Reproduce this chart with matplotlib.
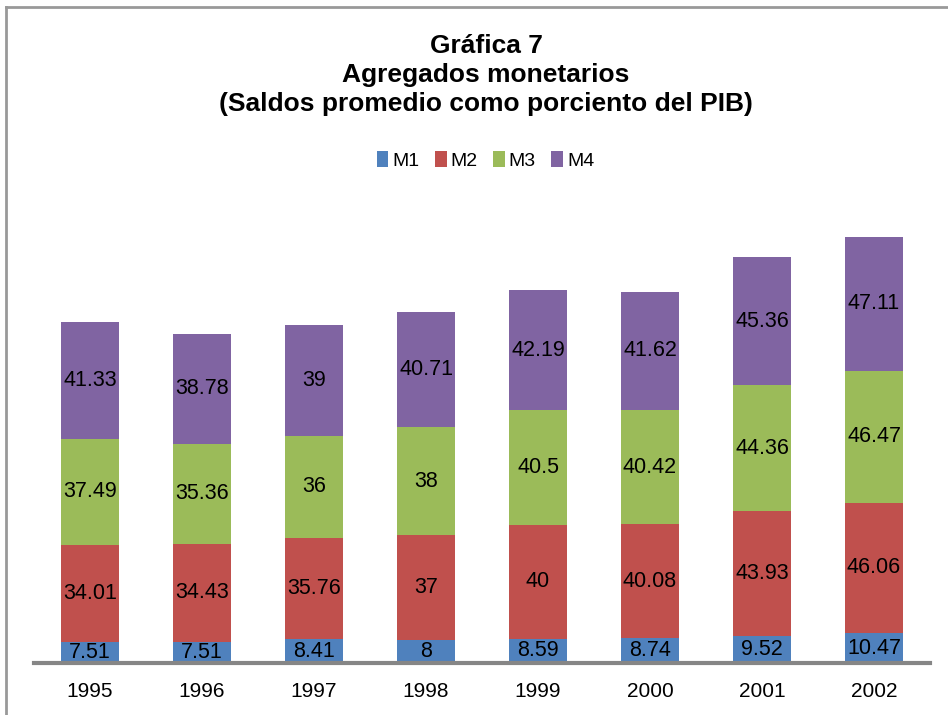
import matplotlib.pyplot as plt
import numpy as np
from matplotlib.lines import Line2D

plt.rcParams['font.family'] = ['Liberation Sans', 'DejaVu Sans']

anios = ['1995', '1996', '1997', '1998', '1999', '2000', '2001', '2002']
m1 = [7.51, 7.51, 8.41, 8, 8.59, 8.74, 9.52, 10.47]
m2 = [34.01, 34.43, 35.76, 37, 40, 40.08, 43.93, 46.06]
m3 = [37.49, 35.36, 36, 38, 40.5, 40.42, 44.36, 46.47]
m4 = [41.33, 38.78, 39, 40.71, 42.19, 41.62, 45.36, 47.11]

series = [('M1', m1, '#4F81BD'), ('M2', m2, '#C0504D'),
          ('M3', m3, '#9BBB59'), ('M4', m4, '#8064A2')]

fig = plt.figure(figsize=(9.48, 7.15), dpi=100)
ax = fig.add_axes([34/948, 52/715, 896/948, 454/715])

x = np.arange(len(anios))
base = np.zeros(len(anios))
for nombre, vals, color in series:
    vals = np.array(vals)
    barras = ax.bar(x, vals, width=0.52, bottom=base, color=color, label=nombre)
    etiquetas = [('%.2f' % v).rstrip('0').rstrip('.') for v in vals]
    ax.bar_label(barras, labels=etiquetas, label_type='center', fontsize=15.5)
    base = base + vals

ax.set_xlim(-0.5, len(anios) - 0.5)
ax.set_ylim(0, 160)
ax.set_xticks(x)
ax.set_xticklabels(anios, fontsize=15)
ax.tick_params(axis='x', length=0, pad=14)
ax.set_yticks([])
for lado in ['left', 'right', 'top']:
    ax.spines[lado].set_visible(False)
ax.spines['bottom'].set_color('#868686')
ax.spines['bottom'].set_linewidth(3)

fig.text(486/948, 1 - 75/715, 'Gráfica 7\nAgregados monetarios\n(Saldos promedio como porciento del PIB)',
         ha='center', va='center', fontsize=19, fontweight='bold', linespacing=1.28)

fig.legend(loc='center', bbox_to_anchor=(0.512, 0.776), ncol=4, frameon=False,
           fontsize=14, handlelength=0.6, handleheight=0.9, handletextpad=0.2,
           columnspacing=0.8)

# marco del grafico (solo arriba e izquierda visibles)
fig.add_artist(Line2D([6/948, 1], [1 - 7/715, 1 - 7/715], transform=fig.transFigure,
                      color='#999999', linewidth=2))
fig.add_artist(Line2D([6/948, 6/948], [0, 1 - 7/715], transform=fig.transFigure,
                      color='#999999', linewidth=2))

fig.savefig('out.png', dpi=100)
